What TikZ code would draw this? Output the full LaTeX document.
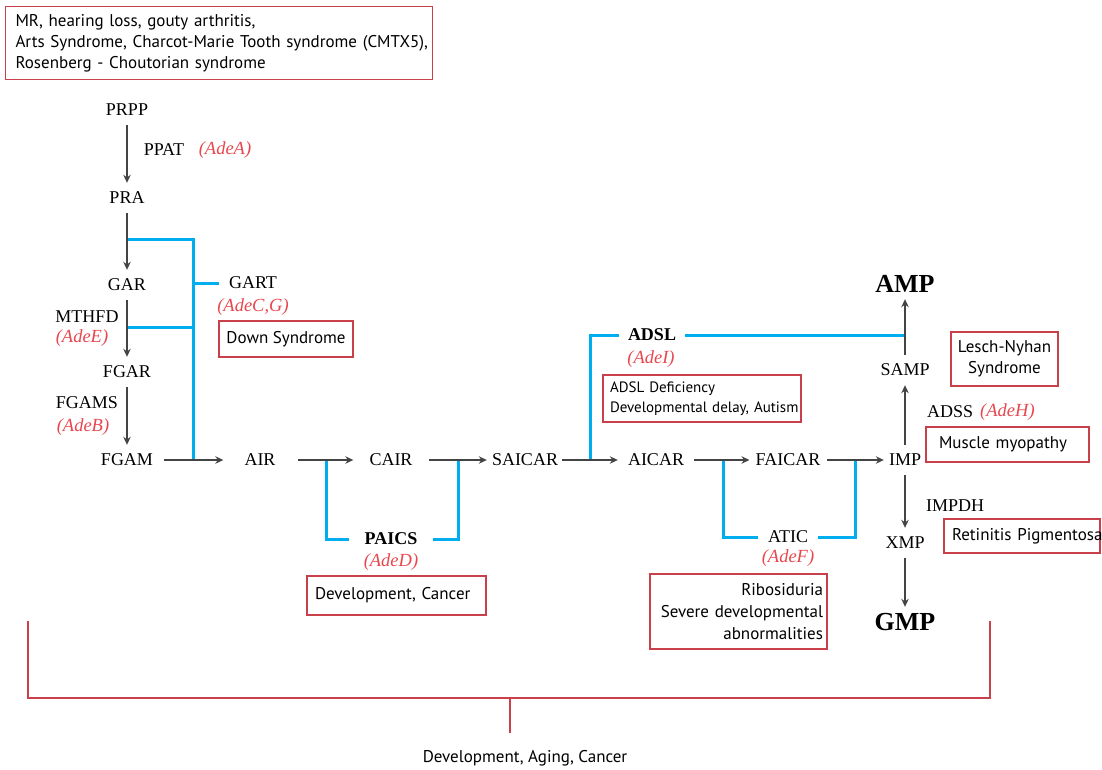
\documentclass[tikz,border=0pt]{standalone}
\usepackage{fontspec}
\setmainfont{Liberation Serif}
\newfontfamily\boxfont{PT Sans}
\usetikzlibrary{arrows.meta}
\definecolor{pblue}{HTML}{00AEEF}
\definecolor{bred}{HTML}{C9404A}
\definecolor{gred}{HTML}{E8474F}
\definecolor{agray}{HTML}{444444}
\begin{document}
\begin{tikzpicture}[x=1pt,y=-1pt,
  met/.style={font=\fontsize{18}{20}\selectfont, inner xsep=0pt, inner ysep=0pt, minimum height=30pt},
  big/.style={font=\bfseries\fontsize{26}{28}\selectfont, inner xsep=0pt, inner ysep=0pt, minimum height=30pt},
  enz/.style={font=\fontsize{18}{20}\selectfont, inner sep=0pt},
  benz/.style={font=\bfseries\fontsize{18}{20}\selectfont, inner ysep=0pt, inner xsep=10pt},
  genelab/.style={font=\itshape\fontsize{18.5}{20}\selectfont, text=gred, inner sep=0pt},
  arr/.style={draw=agray, line width=1.2pt, -{Stealth[length=8pt,width=7.5pt]}},
  bl/.style={draw=pblue, line width=3pt},
  box/.style={draw=bred, line width=1.1pt, font=\boxfont\fontsize{17}{21}\selectfont, inner ysep=0pt},
  brk/.style={draw=bred, line width=1.1pt}]
\useasboundingbox (0,0) rectangle (1102,769);

% top box
\node[box, text width=407pt, inner xsep=10pt, minimum height=73pt, align=left, anchor=north west] (topbox) at (5,6)
  {\mbox{MR, hearing loss, gouty arthritis,}\\\mbox{Arts Syndrome, Charcot-Marie Tooth syndrome (CMTX5),}\\\mbox{Rosenberg - Choutorian syndrome}};

% metabolites
\node[met] (PRPP) at (127,110) {PRPP};
\node[met] (PRA) at (127,198) {PRA};
\node[met] (GAR) at (127,285) {GAR};
\node[met] (FGAR) at (127,372) {FGAR};
\node[met] (FGAM) at (127,460) {FGAM};
\node[met] (AIR) at (260,460) {AIR};
\node[met] (CAIR) at (391,460) {CAIR};
\node[met] (SAICAR) at (525,460) {SAICAR};
\node[met] (AICAR) at (656,460) {AICAR};
\node[met] (FAICAR) at (788,460) {FAICAR};
\node[met] (IMP) at (905,460) {IMP};
\node[met] (SAMP) at (905,370) {SAMP};
\node[big] (AMP) at (905,284) {AMP};
\node[met] (XMP) at (905,543) {XMP};
\node[big] (GMP) at (905,622) {GMP};

% enzymes
\node[enz] (PPAT) at (164,150) {PPAT};
\node[genelab] (AdeA) at (225,150) {(AdeA)};
\node[enz] (GART) at (253,283) {GART};
\node[genelab] (AdeCG) at (253,307) {(AdeC,G)};
\node[enz] (MTHFD) at (87,317) {MTHFD};
\node[genelab] (AdeE) at (82,338) {(AdeE)};
\node[enz] (FGAMS) at (87,403) {FGAMS};
\node[genelab] (AdeB) at (83,427) {(AdeB)};
\node[benz, inner xsep=15pt] (PAICS) at (391,539) {PAICS};
\node[genelab] (AdeD) at (391,562) {(AdeD)};
\node[benz, inner xsep=9pt] (ADSL) at (652,335) {ADSL};
\node[genelab] (AdeI) at (651,359) {(AdeI)};
\node[benz, font=\fontsize{18}{20}\selectfont, inner xsep=10pt] (ATIC) at (788,537) {ATIC};
\node[genelab] (AdeF) at (788,558) {(AdeF)};
\node[enz, anchor=west] (ADSS) at (927,412) {ADSS};
\node[genelab, anchor=west] (AdeH) at (980,412) {(AdeH)};
\node[enz] (IMPDH) at (955,506) {IMPDH};

% disease boxes
\node[box, minimum width=134pt, minimum height=36pt] (ds) at (286,339) {Down Syndrome};
\node[box, text width=184pt, inner xsep=7pt, minimum height=47pt, align=left, font=\boxfont\fontsize{15}{20}\selectfont] (adslbox) at (702,398.5) {\mbox{ADSL Deficiency}\\\mbox{Developmental delay, Autism}};
\node[box, text width=163pt, inner xsep=8pt, minimum height=39pt, align=left] (dcbox) at (396.5,595.5) {\mbox{Development, Cancer}};
\node[box, text width=169pt, inner xsep=4pt, minimum height=75pt, align=right, font=\boxfont\fontsize{17}{22}\selectfont] (ribobox) at (738.5,611.5) {\mbox{Ribosiduria}\\\mbox{Severe developmental}\\\mbox{abnormalities}};
\node[box, minimum width=107pt, minimum height=54pt, align=center] (lnbox) at (1004.5,359) {Lesch-Nyhan\\Syndrome};
\node[box, text width=137pt, inner xsep=13pt, minimum height=35pt, align=left] (mmbox) at (1007.5,444.5) {\mbox{Muscle myopathy}};
\node[box, text width=140pt, inner xsep=8pt, minimum height=34pt, align=left] (rpbox) at (1022,536) {\mbox{Retinitis Pigmentosa}};

% blue enzyme connectors
\coordinate (b1) at (127,239);
\coordinate (b2) at (193,460);
\coordinate (b3) at (127,327);
\draw[bl] (b1) -| (b2);
\draw[bl] (b3) -- (b3 -| b2);
\draw[bl] (b2 |- GART) -- ([xshift=-10pt]GART.west);
\coordinate (c1) at (326,460);
\coordinate (c2) at (458,460);
\draw[bl] (c1) |- (PAICS.west);
\draw[bl] (PAICS.east) -| (c2);
\coordinate (d1) at (590,460);
\draw[bl] (d1) |- (ADSL.west);
\draw[bl] (ADSL.east) -- (ADSL -| SAMP);
\coordinate (e1) at (723,460);
\coordinate (e2) at (855,460);
\draw[bl] (e1) |- (ATIC.west);
\draw[bl] (ATIC.east) -| (e2);

% gray arrows
\draw[arr] (PRPP) -- (PRA);
\draw[arr] (PRA) -- (GAR);
\draw[arr] (GAR) -- (FGAR);
\draw[arr] (FGAR) -- (FGAM);
\draw[arr, shorten <=11pt, shorten >=21pt] (FGAM) -- (AIR);
\draw[arr, shorten <=22pt, shorten >=16pt] (AIR) -- (CAIR);
\draw[arr, shorten <=16pt, shorten >=5pt] (CAIR) -- (SAICAR);
\draw[arr, shorten <=4pt, shorten >=10pt] (SAICAR) -- (AICAR);
\draw[arr, shorten <=10pt, shorten >=6pt] (AICAR) -- (FAICAR);
\draw[arr, shorten <=6pt, shorten >=5pt] (FAICAR) -- (IMP);
\draw[arr] (IMP) -- (SAMP);
\draw[arr] (SAMP) -- (AMP);
\draw[arr] (IMP) -- (XMP);
\draw[arr] (XMP) -- (GMP);

% bottom bracket
\coordinate (bl) at (28,621);
\coordinate (br) at (990,621);
\coordinate (bb) at (510,698);
\coordinate (se) at (510,733);
\draw[brk] (bl) -- (bl |- bb) -- (br |- bb) -- (br);
\draw[brk] (bb) -- (se);
\node[font=\boxfont\fontsize{17}{20}\selectfont] (dac) at (525,758) {Development, Aging, Cancer};
\end{tikzpicture}
\end{document}
